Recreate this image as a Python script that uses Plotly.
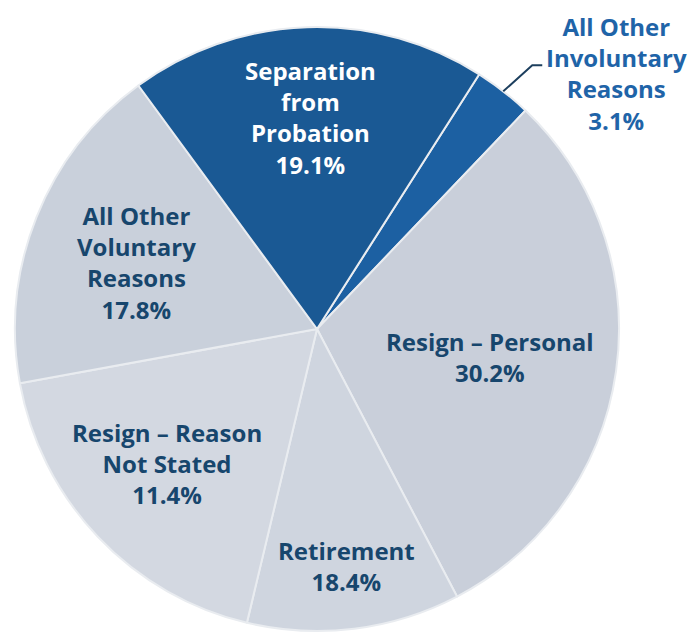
import math
import plotly.graph_objects as go

# ---- data (clockwise from the first slice) ----
categories = ["All Other Involuntary Reasons", "Resign – Personal", "Retirement",
              "Resign – Reason Not Stated", "All Other Voluntary Reasons",
              "Separation from Probation"]
slice_values = [3.1, 30.2, 11.4, 18.4, 17.8, 19.1]          # slice sizes as drawn
label_lines = [["All Other", "Involuntary", "Reasons"],
               ["Resign – Personal"],
               ["Retirement"],
               ["Resign – Reason", "Not Stated"],
               ["All Other", "Voluntary", "Reasons"],
               ["Separation", "from", "Probation"]]
label_percents = ["3.1%", "30.2%", "18.4%", "11.4%", "17.8%", "19.1%"]  # printed values

# ---- styles ----
W, H = 696, 632
PAGE_OFF = 8            # browser default body margin
CX, CY, R = 317, 329, 302   # page pixels
ROTATION = 32.5
slice_colors = ["#1c60a2", "#c9cfda", "#cfd5df", "#d3d8e1", "#c9d0db", "#1a5994"]
text_colors = [None, "#17466d", "#17466d", "#17466d", "#17466d", "#ffffff"]
label_radius = [None, 0.58, 0.79, 0.665, 0.636, 0.70]
label_dangle = [0, 1.2, 0.1, 1.6, -1.3, 0.0]
FONT = "Open Sans"
FSIZE = 24


def fx(px):
    return (px - PAGE_OFF) / W


def fy(py):
    return 1 - (py - PAGE_OFF) / H


fig = go.Figure(go.Pie(
    labels=categories,
    values=slice_values,
    sort=False,
    direction="clockwise",
    rotation=ROTATION,
    textinfo="none",
    hoverinfo="label+value",
    marker=dict(colors=slice_colors, line=dict(color="#e9ecf0", width=2)),
    domain=dict(x=[fx(CX - R), fx(CX + R)], y=[fy(CY + R), fy(CY - R)]),
    showlegend=False,
))

total = sum(slice_values)
start = ROTATION
annotations = []
shapes = []
for i, v in enumerate(slice_values):
    span = v / total * 360.0
    mid = start + span / 2.0
    start += span
    text = "<br>".join(label_lines[i] + [label_percents[i]])
    if label_radius[i] is None:
        # outside label with leader line
        a = math.radians(mid)
        ex, ey = CX + R * math.sin(a), CY - R * math.cos(a)
        kx, ky = ex + 29, ey - 26
        hx = kx + 10
        shapes.append(dict(type="path", xref="paper", yref="paper",
                           path=f"M {fx(ex)},{fy(ey)} L {fx(kx)},{fy(ky)} L {fx(hx)},{fy(ky)}",
                           line=dict(color="#1d3f5e", width=2)))
        annotations.append(dict(x=fx(hx + 74), y=fy(ky + 8), xref="paper", yref="paper",
                                text=text, showarrow=False, xanchor="center", yanchor="middle",
                                font=dict(family=FONT, size=FSIZE, color="#1f64a8", weight="bold")))
        continue
    a = math.radians(mid + label_dangle[i])
    px = CX + label_radius[i] * R * math.sin(a)
    py = CY - label_radius[i] * R * math.cos(a)
    annotations.append(dict(x=fx(px), y=fy(py), xref="paper", yref="paper",
                            text=text, showarrow=False, xanchor="center", yanchor="middle",
                            font=dict(family=FONT, size=FSIZE, color=text_colors[i], weight="bold")))

fig.update_layout(
    width=W, height=H,
    margin=dict(l=0, r=0, t=0, b=0),
    paper_bgcolor="white",
    plot_bgcolor="white",
    annotations=annotations,
    shapes=shapes,
)

fig.write_html("out.html")
